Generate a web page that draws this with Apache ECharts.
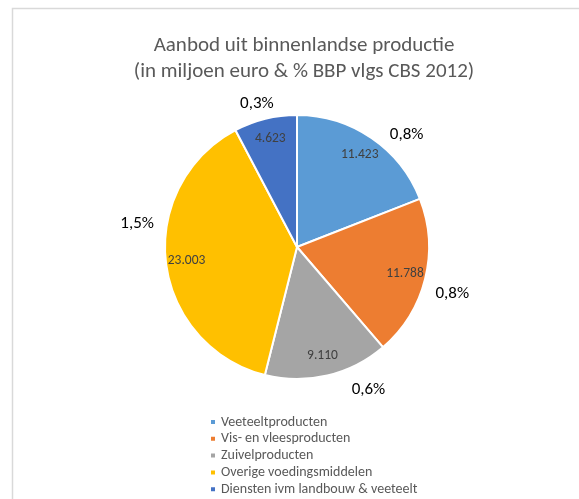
<!DOCTYPE html>
<html>
<head>
<meta charset="utf-8">
<script src="https://cdn.jsdelivr.net/npm/echarts@6/dist/echarts.min.js"></script>
<style>
html, body { margin: 0; padding: 0; background: #fff; }
#main { width: 579px; height: 499px; }
</style>
</head>
<body>
<div id="main"></div>
<script>
// gegevens
var categories = ['Veeteeltproducten', 'Vis- en vleesproducten', 'Zuivelproducten', 'Overige voedingsmiddelen', 'Diensten ivm landbouw & veeteelt'];
var waarden = [11423, 11788, 9110, 23003, 4623];
var bbpPct = ['0,8%', '0,8%', '0,6%', '1,5%', '0,3%'];
var kleuren = ['#5B9BD5', '#ED7D31', '#A5A5A5', '#FFC000', '#4472C4'];

// verschuiving van de %-labels (zoals in Excel handmatig geplaatst)
var pctVerschuiving = [[20, 19], [1, 8], [35, -12], [-2, -42], [-2, 11]];

var fontFam = 'Calibri, Carlito, "Open Sans", sans-serif';

// getal met punt als duizendtal-scheiding
function fmt(n){
	return String(n).replace(/\B(?=(\d{3})+(?!\d))/g, '.');
}

var chart = echarts.init(document.getElementById('main'));
var center = [297, 247];
var r = 132;

var pieData = [], labelData = [], pctData = [];
for (var i = 0; i < categories.length; i++) {
	pieData.push({ name: categories[i], value: waarden[i], itemStyle: { color: kleuren[i] } });
	labelData.push({ name: categories[i], value: waarden[i] });
	pctData.push({ name: categories[i], value: waarden[i], pct: bbpPct[i] });
}

var option = {
	animation: false,
	backgroundColor: '#fff',
	graphic: [{
		type: 'rect',
		shape: { x: 12.5, y: 8.5, width: 700, height: 700 },
		style: { fill: 'none', stroke: '#d9d9d9', lineWidth: 1.5 },
		silent: true
	}],
	title: {
		text: 'Aanbod uit binnenlandse productie\n(in miljoen euro & % BBP vlgs CBS 2012)',
		left: 299,
		textAlign: 'center',
		top: 28,
		textStyle: { fontFamily: fontFam, fontSize: 21, fontWeight: 'normal', color: '#595959', lineHeight: 26 }
	},
	legend: {
		orient: 'vertical',
		left: 209,
		top: 415,
		height: 150,
		padding: 0,
		data: categories,
		icon: 'rect',
		itemWidth: 6,
		itemHeight: 6,
		itemGap: 2.8,
		selectedMode: false,
		textStyle: { fontFamily: fontFam, fontSize: 14, color: '#595959', lineHeight: 13 }
	},
	series: [
		{
			// de taart zelf
			type: 'pie',
			center: center,
			radius: [0, r],
			startAngle: 90,
			clockwise: true,
			silent: true,
			data: pieData,
			label: { show: false },
			labelLine: { show: false },
			itemStyle: { borderColor: '#fff', borderWidth: 2 }
		},
		{
			// waardelabels binnenin
			type: 'pie',
			center: center,
			radius: [r * 0.64, r],
			startAngle: 90,
			silent: true,
			data: labelData,
			itemStyle: { color: 'rgba(0,0,0,0)' },
			label: {
				show: true,
				position: 'inside',
				formatter: function(p){ return fmt(p.value); },
				fontFamily: fontFam,
				fontSize: 13.5,
				color: '#404040'
			},
			labelLine: { show: false }
		},
		{
			// percentages BBP buiten de taart
			type: 'pie',
			center: center,
			radius: [r + 8, r + 40],
			startAngle: 90,
			silent: true,
			data: pctData,
			itemStyle: { color: 'rgba(0,0,0,0)' },
			label: {
				show: true,
				position: 'inside',
				formatter: function(p){ return p.data.pct; },
				fontFamily: fontFam,
				fontSize: 17,
				color: '#000'
			},
			labelLayout: function(p){
				var d = pctVerschuiving[p.dataIndex];
				return { dx: d[0], dy: d[1] };
			},
			labelLine: { show: false }
		}
	]
};
chart.setOption(option);
</script>
</body>
</html>
